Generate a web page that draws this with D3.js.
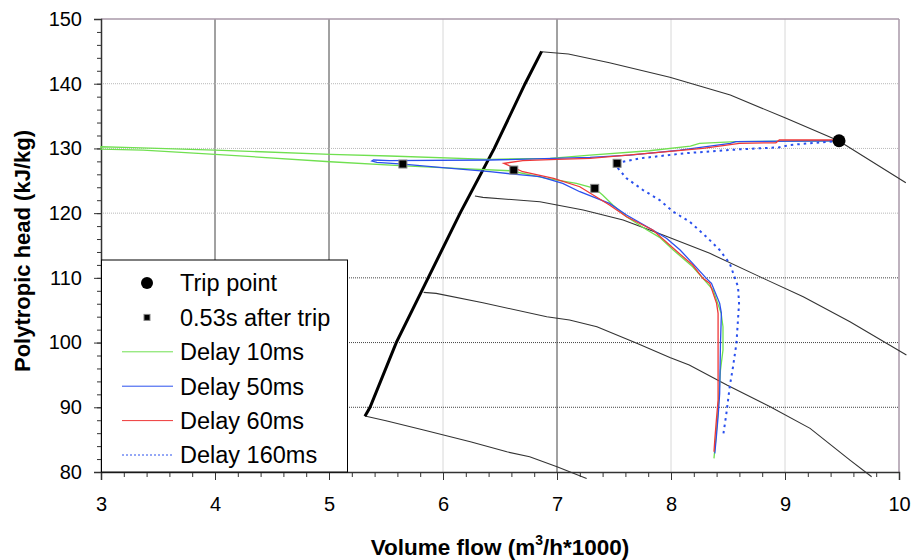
<!DOCTYPE html>
<html>
<head>
<meta charset="utf-8">
<script src="https://cdn.jsdelivr.net/npm/d3@7"></script>
<style>
  body { margin: 0; background: #fff; }
  text { font-family: "Liberation Sans", Arial, sans-serif; }
</style>
</head>
<body>
<div id="chart"></div>
<script>
// Chart data: [volume flow, polytropic head]
var xTicks = [3, 4, 5, 6, 7, 8, 9, 10];
var yTicks = [80, 90, 100, 110, 120, 130, 140, 150];

var surgeLine = [[5.315, 88.6], [5.36, 90], [5.59, 100], [5.87, 110], [6.15, 120], [6.45, 130], [6.72, 140], [6.865, 145]];

var speed1 = [[6.865, 144.95], [7.1, 144.6], [7.46, 143.25], [7.99, 140.99], [8.52, 138.25], [9.01, 134.65], [9.47, 131.19], [10.06, 124.7]];
var speed2 = [[6.28, 122.64], [6.35, 122.44], [6.85, 121.76], [7.23, 120.48], [7.58, 118.93], [7.93, 116.62], [8.34, 113.79], [8.81, 109.92], [9.16, 107.08], [9.57, 103.22], [10.065, 98.07]];
var speed3 = [[5.83, 107.76], [5.94, 107.6], [6.35, 106.15], [6.91, 103.99], [7.11, 103.48], [7.35, 102.44], [7.7, 99.88], [7.99, 97.71], [8.16, 96.52], [8.49, 93.43], [8.87, 90.08], [9.22, 86.74], [9.57, 81.84], [9.76, 79.26]];
var speed4 = [[5.315, 88.64], [5.5, 87.91], [5.83, 86.48], [6.24, 84.67], [6.56, 83.12], [6.76, 82.35], [7.0, 80.8], [7.26, 79.01]];

var tripPoint = [9.474, 131.19];
var afterTrip = [[5.648, 127.59], [6.621, 126.66], [7.331, 123.83], [7.527, 127.7]];

var delay10 = [[9.47, 131.19], [8.57, 131.04], [8.25, 130.79], [8.17, 130.37], [7.81, 129.64], [7.29, 128.98], [6.94, 128.47], [6.41, 128.32], [5.53, 128.83], [5.01, 129.09], [4.0, 129.75], [3.28, 130.11], [3.0, 130.26],
  [3.0, 129.9], [3.37, 129.75], [4.0, 129.09], [5.01, 127.94], [5.62, 127.33], [6.12, 126.92], [6.59, 126.55], [6.91, 125.38], [7.17, 124.61], [7.33, 123.83], [7.4, 122.8], [7.49, 121.25], [7.61, 119.44], [7.79, 117.39], [7.9, 116.26], [8.02, 114.3], [8.19, 111.72], [8.28, 109.92], [8.37, 108.11], [8.44, 104.51], [8.456, 102.44], [8.456, 98.84], [8.434, 95.75], [8.413, 89.57], [8.392, 84.93], [8.377, 82.1]];

var delay50 = [[9.47, 131.19], [8.57, 131.04], [8.52, 130.79], [8.08, 129.75], [7.64, 128.98], [7.29, 128.62], [6.41, 128.21], [5.53, 128.1], [5.39, 128.21], [5.376, 128.05],
  [5.42, 127.85], [5.65, 127.59], [5.97, 127.08], [6.41, 126.4], [6.85, 125.63], [7.05, 124.61], [7.2, 123.31], [7.46, 121.51], [7.61, 119.71], [7.84, 117.39], [7.96, 116.11], [8.08, 114.3], [8.19, 112.24], [8.31, 109.92], [8.355, 109.15], [8.427, 106.06], [8.442, 104.51], [8.434, 99.88], [8.427, 92.15], [8.413, 88.53], [8.398, 85.44], [8.384, 82.87]];

var delay60 = [[9.47, 131.19], [9.45, 131.3], [8.95, 131.3], [8.92, 130.88], [8.6, 130.79], [8.28, 130.02], [7.87, 129.34], [7.29, 128.47], [7.0, 128.32], [6.7, 128.1], [6.534, 127.7],
  [6.615, 127.08], [6.7, 126.4], [6.97, 125.38], [7.2, 124.08], [7.46, 121.25], [7.61, 119.44], [7.84, 117.39], [8.02, 114.56], [8.19, 111.98], [8.28, 109.92], [8.34, 109.15], [8.4, 106.06], [8.413, 104.51], [8.413, 97.3], [8.413, 91.11], [8.398, 88.02], [8.384, 84.93], [8.377, 83.12]];

var delay160 = [[9.47, 131.19], [9.39, 131.04], [9.04, 130.53], [8.95, 130.17], [8.6, 129.86], [8.11, 129.24], [7.73, 128.47], [7.55, 127.85], [7.527, 127.7],
  [7.536, 126.92], [7.61, 125.38], [7.755, 123.57], [7.9, 122.02], [8.02, 120.22], [8.164, 118.67], [8.31, 116.35], [8.427, 114.3], [8.515, 112.24], [8.588, 108.62], [8.597, 106.06], [8.574, 99.88], [8.544, 96.26], [8.515, 93.17], [8.486, 89.06], [8.456, 85.44]];

var legendLabels = ['Trip point', '0.53s after trip', 'Delay 10ms', 'Delay 50ms', 'Delay 60ms', 'Delay 160ms'];

var svgWidth = 912;
var svgHeight = 560;
var margin = { top: 19, right: 13, bottom: 88, left: 101 };
var width = svgWidth - margin.left - margin.right;
var height = svgHeight - margin.top - margin.bottom;

var svg = d3.select('#chart')
    .append('svg')
    .attr('width', svgWidth)
    .attr('height', svgHeight);

var chartGroup = svg.append('g')
    .attr('transform', `translate(${margin.left}, ${margin.top})`);

var xScale = d3.scaleLinear().domain([3, 10]).range([0, width]);
var yScale = d3.scaleLinear().domain([80, 150]).range([height, 0]);

// Grid lines (the reference mixes dark and light ones)
var darkX = [4, 5, 7];
chartGroup.selectAll('.vgrid')
    .data([4, 5, 6, 7, 8, 9])
    .enter()
    .append('line')
    .attr('x1', d => xScale(d)).attr('x2', d => xScale(d))
    .attr('y1', 0).attr('y2', height)
    .attr('stroke', d => darkX.includes(d) ? '#444' : '#d8d8d8')
    .attr('stroke-width', 1);

var darkY = [90, 100, 110];
chartGroup.selectAll('.hgrid')
    .data([90, 100, 110, 120, 130, 140])
    .enter()
    .append('line')
    .attr('x1', 0).attr('x2', width)
    .attr('y1', d => yScale(d)).attr('y2', d => yScale(d))
    .attr('stroke', d => darkY.includes(d) ? '#444' : '#b8b8b8')
    .attr('stroke-dasharray', '1,1')
    .attr('stroke-width', 1);

// frame top/right
chartGroup.append('line')
    .attr('x1', 0).attr('x2', width).attr('y1', 0).attr('y2', 0)
    .attr('stroke', '#a898a8').attr('stroke-width', 1.5);
chartGroup.append('line')
    .attr('x1', width).attr('x2', width).attr('y1', 0).attr('y2', height)
    .attr('stroke', '#a898a8').attr('stroke-width', 1.5);

// Axes with major + minor ticks
var bottomAxis = d3.axisBottom(xScale).tickValues(xTicks).tickSize(8).tickPadding(17).tickFormat(d3.format('d'));
var bottomMinor = d3.axisBottom(xScale).tickValues(d3.range(3, 10.001, 0.2)).tickSize(5).tickFormat('');
var leftAxis = d3.axisLeft(yScale).tickValues(yTicks).tickSize(7).tickPadding(12).tickFormat(d3.format('d'));
var leftMinor = d3.axisLeft(yScale).tickValues(d3.range(80, 150.001, 2)).tickSize(4).tickFormat('');

chartGroup.append('g').attr('transform', `translate(0, ${height})`).call(bottomMinor)
    .call(g => g.select('.domain').remove());
var xAxisG = chartGroup.append('g').attr('transform', `translate(0, ${height})`).call(bottomAxis);
chartGroup.append('g').call(leftMinor).call(g => g.select('.domain').remove());
var yAxisG = chartGroup.append('g').call(leftAxis);

[xAxisG, yAxisG].forEach(function(g) {
    g.selectAll('text').attr('font-size', 20).attr('font-family', '"Liberation Sans", Arial, sans-serif').attr('fill', '#000');
    g.select('.domain').attr('stroke', '#333').attr('stroke-width', 1.5);
});
chartGroup.selectAll('.tick line').attr('stroke', '#333');

// Lines
var line = d3.line()
    .x(d => xScale(d[0]))
    .y(d => yScale(d[1]));

[speed1, speed2, speed3, speed4].forEach(function(s) {
    chartGroup.append('path')
        .datum(s)
        .attr('d', line)
        .attr('fill', 'none')
        .attr('stroke', '#333')
        .attr('stroke-width', 1.1);
});

chartGroup.append('path')
    .datum(surgeLine)
    .attr('d', line)
    .attr('fill', 'none')
    .attr('stroke', '#000')
    .attr('stroke-width', 3);

var series = [
    { data: delay10, color: '#70e050', dash: null },
    { data: delay50, color: '#2a50ee', dash: null },
    { data: delay60, color: '#ee3838', dash: null },
    { data: delay160, color: '#2a50ee', dash: '2.5,4' }
];

series.forEach(function(s) {
    chartGroup.append('path')
        .datum(s.data)
        .attr('d', line)
        .attr('fill', 'none')
        .attr('stroke', s.color)
        .attr('stroke-width', s.dash ? 2 : 1.3)
        .attr('stroke-dasharray', s.dash);
});

// Markers
chartGroup.selectAll('.after')
    .data(afterTrip)
    .enter()
    .append('rect')
    .attr('x', d => xScale(d[0]) - 4)
    .attr('y', d => yScale(d[1]) - 4)
    .attr('width', 8)
    .attr('height', 8)
    .attr('fill', '#000')
    .attr('stroke', '#888')
    .attr('stroke-width', 1);

chartGroup.append('circle')
    .attr('cx', xScale(tripPoint[0]))
    .attr('cy', yScale(tripPoint[1]))
    .attr('r', 6.5)
    .attr('fill', '#000');

// Legend
var legend = chartGroup.append('g');
legend.append('rect')
    .attr('x', 0.5).attr('y', 241)
    .attr('width', 246).attr('height', height - 241)
    .attr('fill', '#fff')
    .attr('stroke', '#000')
    .attr('stroke-width', 1);

var legendY = d3.scaleLinear().domain([0, 5]).range([264, 436]);
legend.append('circle')
    .attr('cx', 46).attr('cy', legendY(0)).attr('r', 6).attr('fill', '#000');
legend.append('rect')
    .attr('x', 43).attr('y', legendY(1) - 3).attr('width', 6).attr('height', 6)
    .attr('fill', '#000').attr('stroke', '#888');
series.forEach(function(s, i) {
    legend.append('line')
        .attr('x1', 21).attr('x2', 72)
        .attr('y1', legendY(i + 2)).attr('y2', legendY(i + 2))
        .attr('stroke', s.color)
        .attr('stroke-width', 1)
        .attr('stroke-dasharray', s.dash ? '2,2' : null);
});
legend.selectAll('.ltext')
    .data(legendLabels)
    .enter()
    .append('text')
    .attr('x', 79)
    .attr('y', (d, i) => legendY(i))
    .attr('dy', '0.36em')
    .attr('font-size', 23.5)
    .text(d => d);

// Axis titles
svg.append('text')
    .attr('transform', 'translate(30, 251) rotate(-90)')
    .attr('text-anchor', 'middle')
    .attr('font-size', 22)
    .attr('font-weight', 'bold')
    .text('Polytropic head (kJ/kg)');

var xTitle = svg.append('text')
    .attr('x', 500)
    .attr('y', 555)
    .attr('text-anchor', 'middle')
    .attr('font-size', 22.5)
    .attr('font-weight', 'bold');
xTitle.append('tspan').text('Volume flow (m');
xTitle.append('tspan').attr('dy', -10).attr('font-size', 14).text('3');
xTitle.append('tspan').attr('dy', 10).text('/h*1000)');
</script>
</body>
</html>
